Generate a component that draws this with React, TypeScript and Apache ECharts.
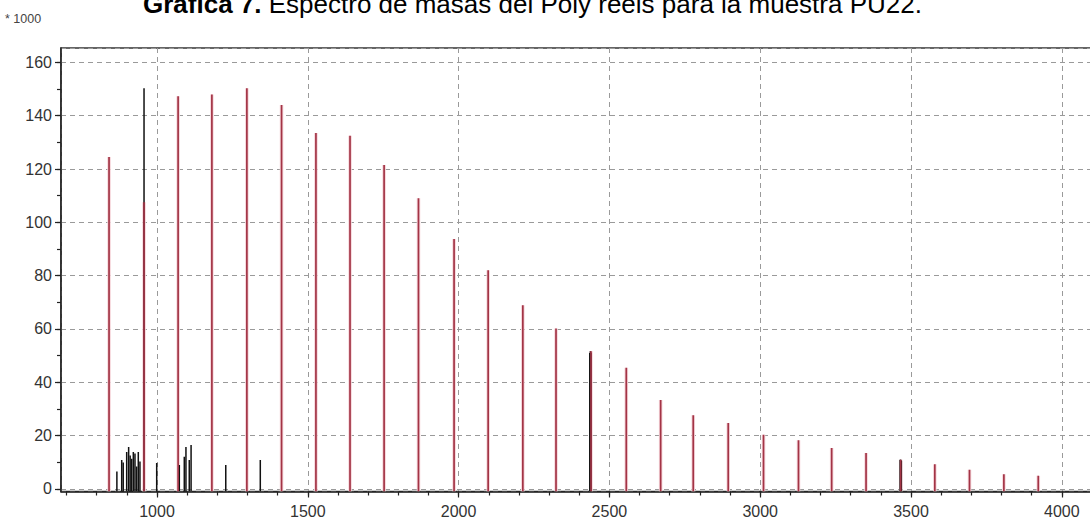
import React, { useEffect, useRef } from 'react';
import * as echarts from 'echarts';

// Red (calculated / pattern) peaks: m/z and intensity (* 1000)
const redMz = [841, 957, 1070, 1182, 1298, 1413, 1527, 1640, 1753, 1867, 1985, 2098, 2213, 2323, 2439, 2556, 2670, 2778, 2894, 3011, 3127, 3237, 3351, 3466, 3579, 3694, 3808, 3922];
const redIntensity = [124.5, 107.5, 147.3, 148, 150.3, 144, 133.5, 132.5, 121.5, 109, 93.7, 82, 68.9, 60.2, 51.6, 45.4, 33.3, 27.6, 24.7, 20.3, 18.2, 15.3, 13.4, 10.9, 9.2, 7.2, 5.5, 4.9];

// Black (measured) peaks
const blackMz = [867, 883, 888, 899.5, 906, 911, 916, 921.5, 927, 932.5, 938, 943.5, 957, 999, 1074, 1090.5, 1096, 1107, 1113, 1228, 1342.5, 2435, 2437, 2439, 3464, 3466, 3468];
const blackIntensity = [6.5, 10.8, 9.9, 13.8, 15.7, 12.5, 11.3, 13.8, 13.3, 8.4, 13.8, 10.3, 150.3, 9.7, 8.9, 12, 15.7, 10.8, 16.4, 8.9, 10.8, 51, 51.6, 51, 10.9, 10.9, 10.5];

const xMinorTicks = [700, 800, 900, 1000, 1100, 1200, 1300, 1400, 1500, 1600, 1700, 1800, 1900, 2000, 2100, 2200, 2300, 2400, 2500, 2600, 2700, 2800, 2900, 3000, 3100, 3200, 3300, 3400, 3500, 3600, 3700, 3800, 3900, 4000, 4100];
const yMinorTicks = [0, 10, 20, 30, 40, 50, 60, 70, 80, 90, 100, 110, 120, 130, 140, 150, 160];

const titleBold = 'Gráfica 7.';
const titleRest = 'Espectro de masas del Poly reels para la muestra PU22.';
const yScaleNote = '* 1000';

const X_MIN = 681.7;
const X_MAX = 4126.7;
const Y_MIN = -1;
const Y_MAX = 165.4;

const FONT = '"Liberation Sans", Arial, sans-serif';

function stick(color: string, width: number) {
  return (_params: any, api: any) => {
    const x = api.value(0);
    const base = api.coord([x, Y_MIN]);
    const top = api.coord([x, api.value(1)]);
    return {
      type: 'line',
      shape: { x1: base[0], y1: base[1], x2: top[0], y2: top[1] },
      style: { stroke: color, lineWidth: width },
    };
  };
}

export default function App() {
  const ref = useRef<HTMLDivElement>(null);

  useEffect(() => {
    if (!ref.current) return;
    const chart = echarts.init(ref.current, undefined, { renderer: 'svg' });
    const redData = redMz.map((m, i) => [m, redIntensity[i]]);
    const blackData = blackMz.map((m, i) => [m, blackIntensity[i]]);
    const axisColor = '#222';
    const labelStyle = { fontSize: 16, color: '#333', fontFamily: FONT, formatter: (v: number) => String(v) };
    const gridLine = { show: true, lineStyle: { color: '#9a9a9a', width: 1, type: [5, 4] as any } };

    chart.setOption({
      animation: false,
      backgroundColor: '#fff',
      grid: {
        left: 61,
        right: -10,
        top: 48,
        bottom: 32.5,
        show: true,
        borderColor: '#333',
        borderWidth: 1.5,
        containLabel: false,
        outerBoundsMode: 'none',
      },
      xAxis: [
        {
          type: 'value',
          min: X_MIN,
          max: X_MAX,
          splitNumber: 7,
          axisLine: { show: true, onZero: false, lineStyle: { color: axisColor, width: 1.5 } },
          axisTick: { show: true, length: 6, lineStyle: { color: axisColor, width: 1.2 } },
          axisLabel: { ...labelStyle, margin: 12, showMinLabel: false, showMaxLabel: false },
          splitLine: gridLine,
        },
        {
          type: 'value',
          min: X_MIN,
          max: X_MAX,
          position: 'bottom',
          axisLine: { show: false, onZero: false },
          axisTick: { show: true, length: 4, customValues: xMinorTicks, lineStyle: { color: axisColor, width: 1.2 } },
          axisLabel: { show: false },
          splitLine: { show: false },
        },
      ],
      yAxis: [
        {
          type: 'value',
          min: Y_MIN,
          max: Y_MAX,
          splitNumber: 8,
          axisLine: { show: true, onZero: false, lineStyle: { color: axisColor, width: 1.5 } },
          axisTick: { show: true, length: 6, lineStyle: { color: axisColor, width: 1.2 } },
          axisLabel: { ...labelStyle, margin: 9, showMinLabel: false, showMaxLabel: false },
          splitLine: gridLine,
        },
        {
          type: 'value',
          min: Y_MIN,
          max: Y_MAX,
          position: 'left',
          axisLine: { show: false, onZero: false },
          axisTick: { show: true, length: 4, customValues: yMinorTicks, lineStyle: { color: axisColor, width: 1.2 } },
          axisLabel: { show: false },
          splitLine: { show: false },
        },
      ],
      graphic: [
        {
          type: 'text',
          x: 143,
          y: 17,
          style: {
            text: '{b|' + titleBold + '} {r|' + titleRest + '}',
            fontSize: 26,
            fontFamily: FONT,
            fill: '#000',
            textVerticalAlign: 'bottom',
            rich: {
              b: { fontSize: 26, fontWeight: 'bold', fontFamily: FONT, fill: '#000' },
              r: { fontSize: 26, fontFamily: FONT, fill: '#000' },
            },
          },
        },
        {
          type: 'text',
          x: 5,
          y: 19,
          style: { text: yScaleNote, fontSize: 12.5, fontFamily: FONT, fill: '#444', textVerticalAlign: 'middle' },
        },
      ],
      series: [
        { type: 'custom', name: 'pattern-halo', data: redData, renderItem: stick('#f6d6db', 3.6), clip: true, silent: true },
        { type: 'custom', name: 'measured', data: blackData, renderItem: stick('#111', 1.5), clip: true, silent: true },
        { type: 'custom', name: 'pattern', data: redData, renderItem: stick('#a33446', 1.7), clip: true, silent: true },
      ],
    });
    return () => chart.dispose();
  }, []);

  return <div ref={ref} style={{ position: 'fixed', left: 0, top: 0, width: 1090, height: 524 }} />;
}
